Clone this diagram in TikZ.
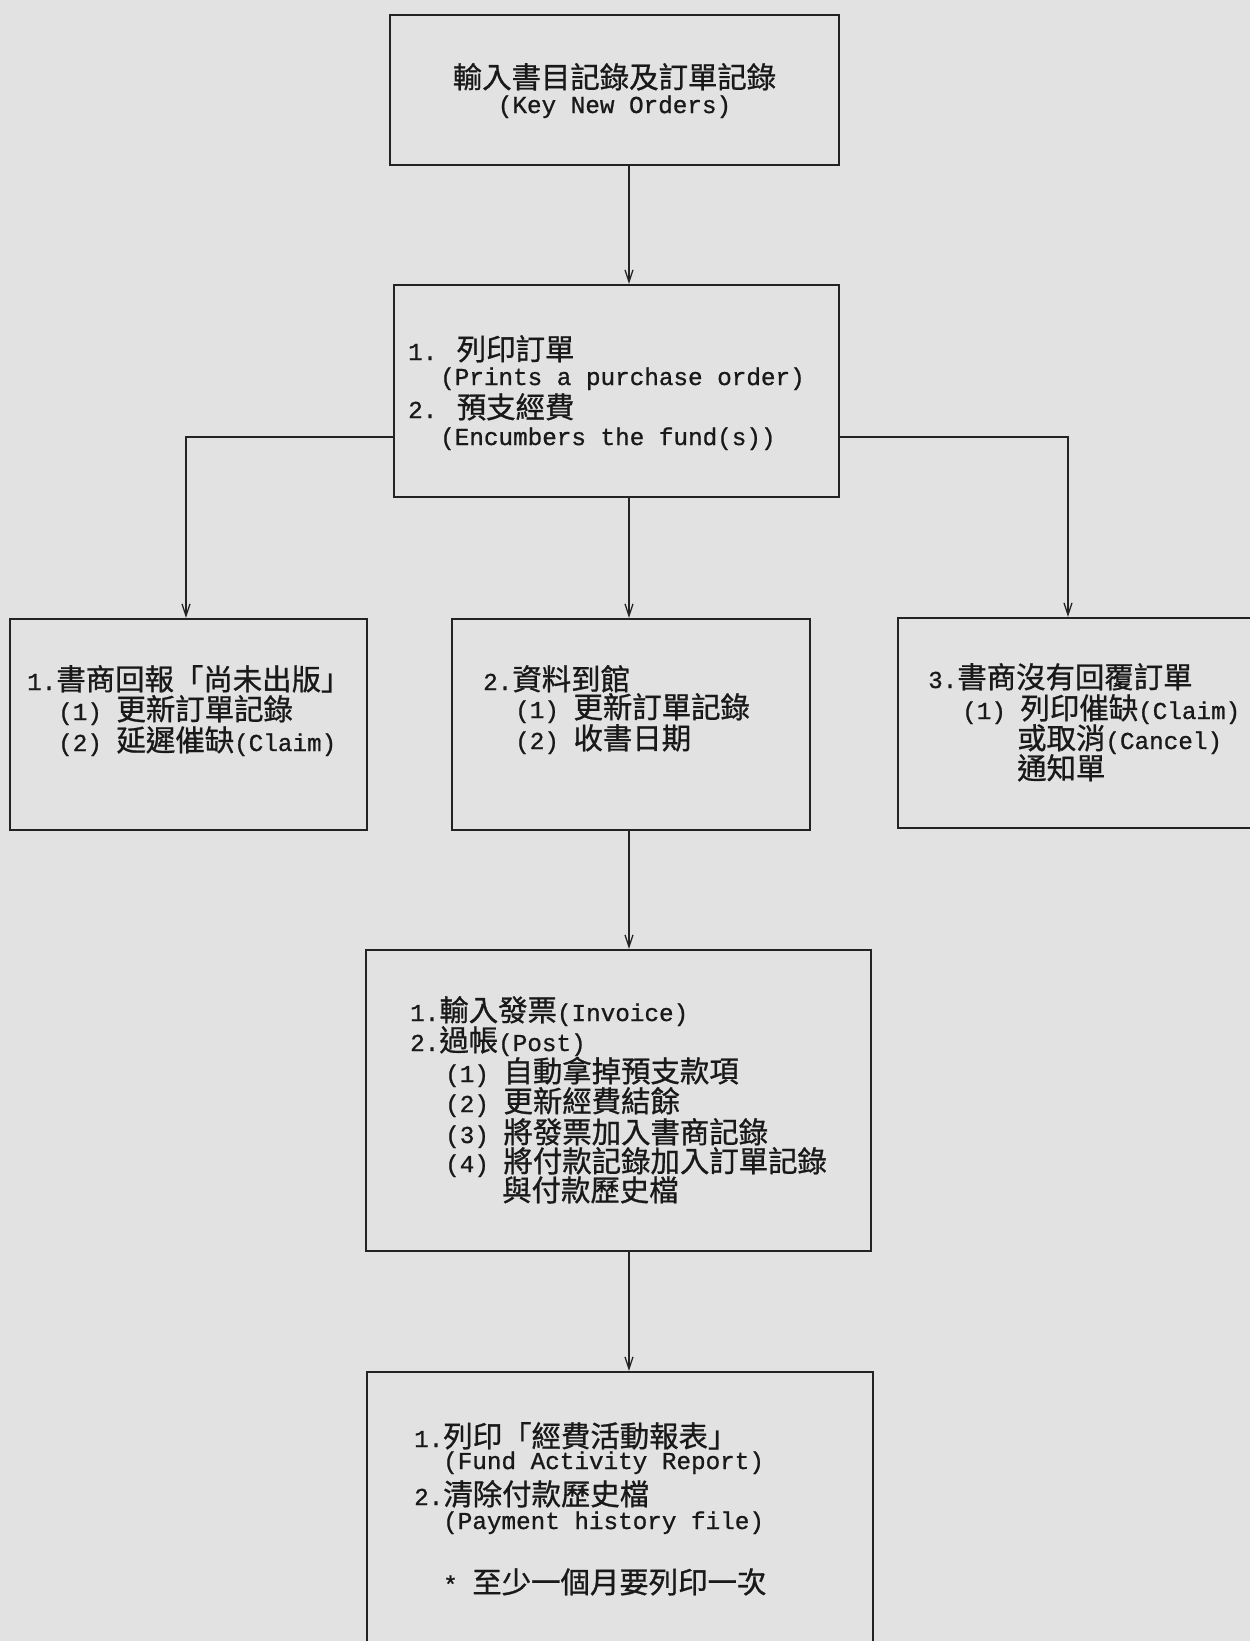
\documentclass[tikz,border=0pt]{standalone}
\usepackage{fontspec}
\setmainfont{Liberation Mono}[FakeBold=0.9]
\newfontfamily\cjk{Noto Sans CJK TC}[Scale=1.21,FakeBold=0.9]
\usetikzlibrary{arrows.meta,fit}
\definecolor{bgc}{RGB}{226,226,226}
\definecolor{ink}{RGB}{25,25,25}
\definecolor{edge}{RGB}{35,35,35}
\tikzset{
  boxnode/.style={draw=edge, line width=2.2pt, inner sep=0pt, fill=none},
  txt/.style={inner sep=0pt, anchor=base west, text=ink, font=\fontsize{24.3pt}{28pt}\selectfont},
  ctxt/.style={txt, anchor=base},
  arr/.style={draw=edge, line width=1.4pt, -{Straight Barb[length=12pt,width=8pt,line width=1.3pt]}}
}
\begin{document}
\begin{tikzpicture}[x=1pt,y=-1pt]
\useasboundingbox (0,0) rectangle (1250,1641);
\clip (0,0) rectangle (1250,1641);
\fill[bgc] (0,0) rectangle (1250,1641);

\coordinate (ax) at (629,0);
\coordinate (lx) at (186,0);
\coordinate (rx) at (1068,0);
\coordinate (ly) at (0,437);

% boxes
\node[boxnode, fit={(390,15) (839,165)}] (b1) {};
\node[boxnode, fit={(394,285) (839,497)}] (b2) {};
\node[boxnode, fit={(10,619) (367,830)}] (b3) {};
\node[boxnode, fit={(452,619) (810,830)}] (b4) {};
\node[boxnode, fit={(898,618) (1262,828)}] (b5) {};
\node[boxnode, fit={(366,950) (871,1251)}] (b6) {};
\node[boxnode, fit={(367,1372) (873,1646)}] (b7) {};

% connectors
\draw[arr] (b1.south -| ax) -- (b2.north -| ax);
\draw[arr] (b2.west |- ly) -| (b3.north -| lx);
\draw[arr] (b2.east |- ly) -| (b5.north -| rx);
\draw[arr] (b2.south -| ax) -- (b4.north -| ax);
\draw[arr] (b4.south -| ax) -- (b6.north -| ax);
\draw[arr] (b6.south -| ax) -- (b7.north -| ax);

% box 1
\node[ctxt] (t1a) at (614.5,88) {\cjk 輸入書目記錄及訂單記錄};
\node[ctxt] (t1b) at (614.5,113) {(Key New Orders)};

% box 2
\node[txt] (t2a) at (408,360) {1. {\cjk 列印訂單}};
\node[txt] (t2b) at (440,385) {(Prints a purchase order)};
\node[txt] (t2c) at (408,418) {2. {\cjk 預支經費}};
\node[txt] (t2d) at (440,445) {(Encumbers the fund(s))};

% left box
\node[txt] (t3a) at (27,690) {1.{\cjk 書商回報「尚未出版」}};
\node[txt] (t3b) at (58,720) {(1) {\cjk 更新訂單記錄}};
\node[txt] (t3c) at (58,751) {(2) {\cjk 延遲催缺}(Claim)};

% middle box
\node[txt] (t4a) at (483,690) {2.{\cjk 資料到館}};
\node[txt] (t4b) at (515,718) {(1) {\cjk 更新訂單記錄}};
\node[txt] (t4c) at (515,749) {(2) {\cjk 收書日期}};

% right box
\node[txt] (t5a) at (928,688) {3.{\cjk 書商沒有回覆訂單}};
\node[txt] (t5b) at (962,719) {(1) {\cjk 列印催缺}(Claim)};
\node[txt] (t5c) at (1017,749) {{\cjk 或取消}(Cancel)};
\node[txt] (t5d) at (1017,779) {\cjk 通知單};

% box 5
\node[txt] (t6a) at (410,1021) {1.{\cjk 輸入發票}(Invoice)};
\node[txt] (t6b) at (410,1051) {2.{\cjk 過帳}(Post)};
\node[txt] (t6c) at (445,1082) {(1) {\cjk 自動拿掉預支款項}};
\node[txt] (t6d) at (445,1112) {(2) {\cjk 更新經費結餘}};
\node[txt] (t6e) at (445,1143) {(3) {\cjk 將發票加入書商記錄}};
\node[txt] (t6f) at (445,1172) {(4) {\cjk 將付款記錄加入訂單記錄}};
\node[txt] (t6g) at (502,1201) {\cjk 與付款歷史檔};

% box 6
\node[txt] (t7a) at (414,1447) {1.{\cjk 列印「經費活動報表」}};
\node[txt] (t7b) at (443,1469) {(Fund Activity Report)};
\node[txt] (t7c) at (414,1505) {2.{\cjk 清除付款歷史檔}};
\node[txt] (t7d) at (443,1529) {(Payment history file)};
\node[txt] (t7e) at (443,1593) {* {\cjk 至少一個月要列印一次}};
\end{tikzpicture}
\end{document}
